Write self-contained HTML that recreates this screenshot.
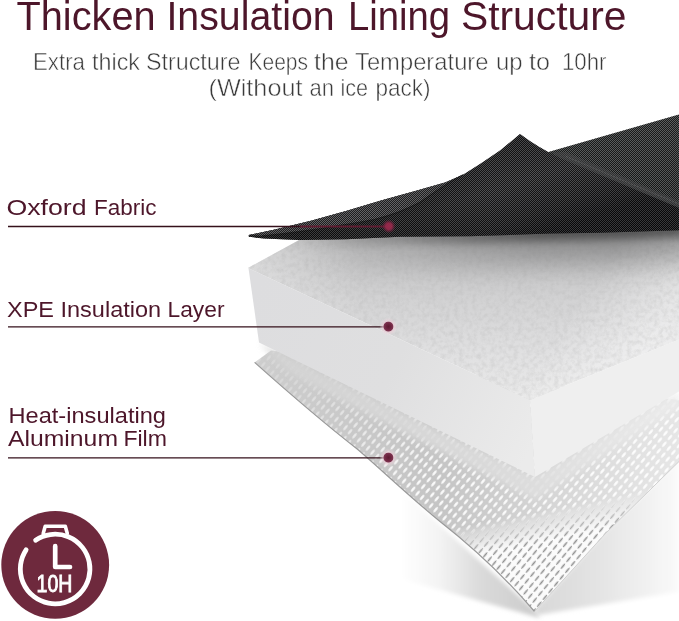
<!DOCTYPE html>
<html><head><meta charset="utf-8"><title>Thicken Insulation Lining Structure</title>
<style>
html,body{margin:0;padding:0;background:#fff;}
body{width:679px;height:621px;overflow:hidden;font-family:"Liberation Sans",sans-serif;}
svg{display:block}
</style></head><body>
<svg width="679" height="621" viewBox="0 0 679 621" font-family="Liberation Sans, sans-serif">
<defs>
  <linearGradient id="gFabA" gradientUnits="userSpaceOnUse" x1="470" y1="150" x2="500" y2="245">
    <stop offset="0" stop-color="#262628"/><stop offset="0.45" stop-color="#343436"/><stop offset="0.8" stop-color="#232325"/><stop offset="1" stop-color="#151517"/>
  </linearGradient>
  <linearGradient id="gFabB" x1="0" y1="0" x2="0" y2="1">
    <stop offset="0" stop-color="#404343"/><stop offset="1" stop-color="#343737"/>
  </linearGradient>
  <linearGradient id="gFoamTop" gradientUnits="userSpaceOnUse" x1="0" y1="240" x2="0" y2="400">
    <stop offset="0" stop-color="#c4c4c5"/><stop offset="0.37" stop-color="#d2d2d3"/><stop offset="0.7" stop-color="#e0e0e1"/><stop offset="1" stop-color="#eaeaea"/>
  </linearGradient>
  <linearGradient id="gFoamL" gradientUnits="userSpaceOnUse" x1="250" y1="300" x2="535" y2="440">
    <stop offset="0" stop-color="#dddddf"/><stop offset="0.5" stop-color="#dfdfe0"/><stop offset="1" stop-color="#ebebeb"/>
  </linearGradient>
  <linearGradient id="gFilm" gradientUnits="userSpaceOnUse" x1="260" y1="0" x2="679" y2="0">
    <stop offset="0" stop-color="#cdcdcd"/><stop offset="0.43" stop-color="#c5c5c5"/><stop offset="0.7" stop-color="#d6d6d6"/><stop offset="0.9" stop-color="#e2e2e2"/><stop offset="1" stop-color="#e6e6e6"/>
  </linearGradient>
  <pattern id="pDots" width="6.1" height="8.8" patternUnits="userSpaceOnUse" patternTransform="matrix(0.739 0.673 0.64 -0.77 0 0)">
    <ellipse cx="3.05" cy="4.4" rx="1.15" ry="3.3" fill="#fff" fill-opacity="0.95"/>
  </pattern>
  <pattern id="pDash" width="6.1" height="8.8" patternUnits="userSpaceOnUse" patternTransform="matrix(0.739 0.673 0.64 -0.77 0 0)">
    <ellipse cx="3.05" cy="4.4" rx="0.8" ry="3.4" fill="#858585" fill-opacity="0.9"/>
  </pattern>
  <linearGradient id="gmL" gradientUnits="userSpaceOnUse" x1="527" y1="514" x2="533" y2="544"><stop offset="0" stop-color="#fff"/><stop offset="1" stop-color="#000"/></linearGradient>
  <linearGradient id="gmR" gradientUnits="userSpaceOnUse" x1="527" y1="514" x2="533" y2="544"><stop offset="0" stop-color="#000"/><stop offset="1" stop-color="#fff"/></linearGradient>
  <linearGradient id="gShR" gradientUnits="userSpaceOnUse" x1="535" y1="0" x2="679" y2="0"><stop offset="0" stop-color="#d8d8d8"/><stop offset="0.45" stop-color="#e4e4e4"/><stop offset="1" stop-color="#fafafa"/></linearGradient>
  <linearGradient id="gShL" gradientUnits="userSpaceOnUse" x1="400" y1="0" x2="535" y2="0"><stop offset="0" stop-color="#ffffff"/><stop offset="0.3" stop-color="#f3f3f3"/><stop offset="0.6" stop-color="#dadada"/><stop offset="1" stop-color="#cccccc"/></linearGradient>
  <filter id="fBlur4" x="-10%" y="-10%" width="120%" height="120%"><feGaussianBlur stdDeviation="2"/></filter>
  <mask id="mLeft" maskUnits="userSpaceOnUse" x="0" y="0" width="679" height="621"><rect width="679" height="621" fill="url(#gmL)"/></mask>
  <mask id="mRight" maskUnits="userSpaceOnUse" x="0" y="0" width="679" height="621"><rect width="679" height="621" fill="url(#gmR)"/></mask>
  <linearGradient id="gmF" gradientUnits="userSpaceOnUse" x1="290" y1="380" x2="410" y2="490"><stop offset="0" stop-color="#444"/><stop offset="1" stop-color="#fff"/></linearGradient>
  <mask id="mFade" maskUnits="userSpaceOnUse" x="0" y="0" width="679" height="621"><rect width="679" height="621" fill="url(#gmF)"/></mask>
  <filter id="fBlurS" filterUnits="userSpaceOnUse" x="200" y="150" width="520" height="250"><feGaussianBlur stdDeviation="14"/></filter>
  <filter id="fBlurS2" filterUnits="userSpaceOnUse" x="200" y="150" width="520" height="250"><feGaussianBlur stdDeviation="4"/></filter>
  <linearGradient id="gFoamLite" gradientUnits="userSpaceOnUse" x1="585" y1="295" x2="650" y2="340"><stop offset="0" stop-color="#fff" stop-opacity="0"/><stop offset="1" stop-color="#fff" stop-opacity="0.45"/></linearGradient>
  <linearGradient id="gFoamLiteL" gradientUnits="userSpaceOnUse" x1="255" y1="0" x2="360" y2="0"><stop offset="0" stop-color="#fff" stop-opacity="0.32"/><stop offset="1" stop-color="#fff" stop-opacity="0"/></linearGradient>
  <linearGradient id="gHaze" gradientUnits="userSpaceOnUse" x1="290" y1="0" x2="679" y2="0"><stop offset="0" stop-color="#d4d4d4"/><stop offset="0.6" stop-color="#dedede"/><stop offset="1" stop-color="#ececec"/></linearGradient>
  <linearGradient id="gFabDarkL" gradientUnits="userSpaceOnUse" x1="300" y1="0" x2="490" y2="0"><stop offset="0" stop-color="#000" stop-opacity="0.45"/><stop offset="0.6" stop-color="#000" stop-opacity="0.3"/><stop offset="1" stop-color="#000" stop-opacity="0"/></linearGradient>
  <linearGradient id="gShX" gradientUnits="userSpaceOnUse" x1="290" y1="0" x2="540" y2="0"><stop offset="0" stop-color="#000" stop-opacity="0.06"/><stop offset="1" stop-color="#000" stop-opacity="1"/></linearGradient>
  <filter id="fBlur3" x="-10%" y="-10%" width="120%" height="120%"><feGaussianBlur stdDeviation="3"/></filter>
  <pattern id="pWeave" width="2" height="2" patternUnits="userSpaceOnUse">
    <rect x="0" y="0" width="1" height="1" fill="#fff" fill-opacity="0.15"/><rect x="1" y="1" width="1" height="1" fill="#fff" fill-opacity="0.15"/>
    <rect x="1" y="0" width="1" height="1" fill="#000" fill-opacity="0.6"/><rect x="0" y="1" width="1" height="1" fill="#000" fill-opacity="0.6"/>
  </pattern>
  <filter id="fNoise" x="0" y="0" width="100%" height="100%">
    <feTurbulence type="fractalNoise" baseFrequency="0.22" numOctaves="3" seed="4" result="n"/>
    <feColorMatrix type="matrix" values="0 0 0 0 0.45  0 0 0 0 0.45  0 0 0 0 0.45  0.6 0 0 0 -0.22"/>
    <feComposite in2="SourceGraphic" operator="in"/>
  </filter>
  <clipPath id="cFoamTop"><path d="M248 268 L300 239.5 L679 215 L679 339.5 L530 400 Z"/></clipPath>
  <radialGradient id="gDotF"><stop offset="0" stop-color="#98294b"/><stop offset="0.45" stop-color="#8f2848"/><stop offset="0.7" stop-color="#7a2240" stop-opacity="0.55"/><stop offset="1" stop-color="#6a1f3a" stop-opacity="0"/></radialGradient>
  <radialGradient id="gDot"><stop offset="0" stop-color="#5e1a31"/><stop offset="0.3" stop-color="#6f2540"/><stop offset="0.5" stop-color="#7d3350"/><stop offset="0.6" stop-color="#e9c9d3" stop-opacity="0.7"/><stop offset="1" stop-color="#f3dfe5" stop-opacity="0"/></radialGradient>
</defs>
<rect width="679" height="621" fill="#fff"/>

<!-- title -->
<g font-size="40.5" fill="#4d162a" opacity="0.999">
  <text x="16.5" y="29.8" textLength="139.1" lengthAdjust="spacingAndGlyphs">Thicken</text>
  <text x="166.4" y="29.8" textLength="168.2" lengthAdjust="spacingAndGlyphs">Insulation</text>
  <text x="347.9" y="29.8" textLength="102.2" lengthAdjust="spacingAndGlyphs">Lining</text>
  <text x="461.0" y="29.8" textLength="165.5" lengthAdjust="spacingAndGlyphs">Structure</text>
</g>
<g font-size="23.6" fill="#3a3a3a" stroke="#fff" stroke-width="0.5" opacity="0.999">
  <text x="33.0" y="70.2" textLength="52.0" lengthAdjust="spacingAndGlyphs">Extra</text>
  <text x="92.0" y="70.2" textLength="48.0" lengthAdjust="spacingAndGlyphs">thick</text>
  <text x="146.0" y="70.2" textLength="94.5" lengthAdjust="spacingAndGlyphs">Structure</text>
  <text x="248.5" y="70.2" textLength="59.5" lengthAdjust="spacingAndGlyphs">Keeps</text>
  <text x="314.0" y="70.2" textLength="34.5" lengthAdjust="spacingAndGlyphs">the</text>
  <text x="355.0" y="70.2" textLength="133.5" lengthAdjust="spacingAndGlyphs">Temperature</text>
  <text x="495.9" y="70.2" textLength="26.6" lengthAdjust="spacingAndGlyphs">up</text>
  <text x="529.0" y="70.2" textLength="21.0" lengthAdjust="spacingAndGlyphs">to</text>
  <text x="562.0" y="70.2" textLength="44.5" lengthAdjust="spacingAndGlyphs">10hr</text>
  <text x="208.5" y="96.1" textLength="94.0" lengthAdjust="spacingAndGlyphs">(Without</text>
  <text x="309.5" y="96.1" textLength="24.5" lengthAdjust="spacingAndGlyphs">an</text>
  <text x="340.4" y="96.1" textLength="27.6" lengthAdjust="spacingAndGlyphs">ice</text>
  <text x="375.5" y="96.1" textLength="55.1" lengthAdjust="spacingAndGlyphs">pack)</text>
</g>

<!-- aluminium film -->
<g id="film">
  <path d="M534.5 610 L605 532 L679 460 L679 591.5 L538 615 Z" fill="url(#gShR)" filter="url(#fBlur4)"/>
  <path d="M395 485 L534.5 610 L540 618 L395 577 Z" fill="url(#gShL)" filter="url(#fBlur4)"/>
  <path d="M254.6 362.4 L271 350.5 L679 400 L679 461.5 L605 534 L534.5 611.5 C505 577 470 545 440 521.5 C410 497 385 473 357.8 449.5 C325 424 290 394 254.6 362.4 Z" fill="url(#gFilm)"/>
  <g mask="url(#mRight)"><path d="M254.6 362.4 L271 350.5 L679 400 L679 461.5 L605 534 L534.5 611.5 C505 577 470 545 440 521.5 C410 497 385 473 357.8 449.5 C325 424 290 394 254.6 362.4 Z" fill="#fbfbfb"/></g>
  <g mask="url(#mLeft)"><g mask="url(#mFade)"><path d="M254.6 362.4 L271 350.5 L679 400 L679 461.5 L605 534 L534.5 611.5 C505 577 470 545 440 521.5 C410 497 385 473 357.8 449.5 C325 424 290 394 254.6 362.4 Z" fill="url(#pDots)"/></g></g>
  <g mask="url(#mRight)"><path d="M254.6 362.4 L271 350.5 L679 400 L679 461.5 L605 534 L534.5 611.5 C505 577 470 545 440 521.5 C410 497 385 473 357.8 449.5 C325 424 290 394 254.6 362.4 Z" fill="url(#pDash)"/></g>
  <path d="M254.6 362.4 C290 394 325 424 357.8 449.5 C385 473 410 497 440 521.5 C470 545 505 577 534.5 611.5" fill="none" stroke="#9a9a9a" stroke-width="1.2"/>
  <path d="M534.5 611.5 L605 534 L679 461.5" fill="none" stroke="#d0d0d0" stroke-width="1"/>
  <!-- hazy band under foam -->
  <path d="M259 342.5 L535 477 L679 391.5 L679 407 L535 500 L290 374 Z" fill="url(#gHaze)" opacity="0.88" filter="url(#fBlur3)"/>
</g>

<!-- foam -->
<g id="foam">
  <path d="M248 268 L300 239.5 L679 215 L679 339.5 L530 400 Z" fill="url(#gFoamTop)"/>
  <path d="M248 268 L300 239.5 L679 215 L679 339.5 L530 400 Z" fill="url(#gFoamLite)"/>
  <path d="M248 268 L300 239.5 L679 215 L679 339.5 L530 400 Z" fill="url(#gFoamLiteL)"/>
  <path d="M248 268 L300 239.5 L679 215 L679 339.5 L530 400 Z" fill="#888" filter="url(#fNoise)"/>
  <path d="M248.5 268.3 L530 400 L535 477 L259 342.5 Z" fill="url(#gFoamL)"/>
  <path d="M530 400 L679 339.5 L679 391.5 L535 477 Z" fill="#efefef"/>
</g>

<!-- fabric -->
<g id="fabric">
  <g clip-path="url(#cFoamTop)">
    <path d="M230 236 L264 238.5 L299 240 L346 239.3 L400 236.8 L470 236.2 L550 233.6 L600 232.7 L700 229.5" fill="none" stroke="url(#gShX)" stroke-width="60" stroke-opacity="0.27" filter="url(#fBlurS)"/>
    <path d="M230 236 L264 238.5 L299 240 L346 239.3 L400 236.8 L470 236.2 L550 233.6 L600 232.7 L700 229.5" fill="none" stroke="url(#gShX)" stroke-width="14" stroke-opacity="0.42" filter="url(#fBlurS2)"/>
  </g>
  <path d="M538 155 L679 114.5 L679 209 L560 159 Z" fill="url(#gFabB)"/>
  <path d="M538 155 L679 114.5 L679 209 L560 159 Z" fill="url(#pWeave)"/>
  <path d="M552 152.5 L560 158 L679 208 L679 201 L566 152 Z" fill="#48484a" opacity="0.5"/>
  <path d="M566 156.5 L679 204" stroke="#8a8a8a" stroke-dasharray="2 1.2" stroke-width="0.9" stroke-opacity="0.4" fill="none"/>
  <!-- underside of lifted flap -->
  <path d="M248.8 235 L275 229.5 L311 220.7 L346 211 L381 200.5 L417 190.6 L445 182.5 L463 174.7 L480 164 L500 150.5 L520 134 Q538 147.5 560 158 L679 208 L679 230.3 L600 232.7 L550 233.6 L470 236.2 L400 236.8 L346 239.3 L299 240 L264 238.5 L248.8 236.8 Z" fill="url(#gFabA)"/>
  <path d="M248.8 235 L275 229.5 L311 220.7 L346 211 L381 200.5 L417 190.6 L445 182.5 L463 174.7 L480 164 L500 150.5 L520 134 Q538 147.5 560 158 L679 208 L679 230.3 L600 232.7 L550 233.6 L470 236.2 L400 236.8 L346 239.3 L299 240 L264 238.5 L248.8 236.8 Z" fill="url(#gFabDarkL)"/>
  <!-- lighter top band -->
  <path d="M248.8 235 L275 229.5 L311 220.7 L346 211 L381 200.5 L417 190.6 L445 182.5 L463 174.7 Q455 179 448.5 183 Q433 193 420 202.4 Q410 207.5 399 211.8 Q388 216 375 219.4 Q358 223 340 225.3 Q320 229 300 231.5 Q280 234.5 262 235.8 Z" fill="#48484a"/>
  <path d="M463 174.7 Q455 179 448.5 183 Q433 193 420 202.4 Q410 207.5 399 211.8 Q388 216 375 219.4 Q358 223 340 225.3 Q320 229 300 231.5 Q280 234.5 262 235.8" fill="none" stroke="#0e0e0f" stroke-width="1.3" stroke-opacity="0.8"/>
  <path d="M248.8 235 L275 229.5 L311 220.7 L346 211 L381 200.5 L417 190.6 L445 182.5 L463 174.7 L480 164 L500 150.5 L520 134 Q538 147.5 560 158 L679 208 L679 230.3 L600 232.7 L550 233.6 L470 236.2 L400 236.8 L346 239.3 L299 240 L264 238.5 L248.8 236.8 Z" fill="url(#pWeave)"/>
</g>

<!-- callouts -->
<g stroke="#35101b" stroke-width="1.35">
  <line x1="8" y1="226.5" x2="388" y2="226.5"/>
  <line x1="8" y1="326.8" x2="388" y2="326.8"/>
  <line x1="8" y1="457.8" x2="388" y2="457.8"/>
</g>
<g>
  <line x1="300" y1="226.5" x2="388" y2="226.5" stroke="#8a2a47" stroke-width="2" stroke-opacity="0.5"/>
  <circle cx="388.8" cy="226.3" r="7" fill="url(#gDotF)"/>
  <circle cx="388.4" cy="326.6" r="9" fill="url(#gDot)"/>
  <circle cx="388.4" cy="457.6" r="9" fill="url(#gDot)"/>
</g>

<g font-size="22.3" fill="#4d162a" opacity="0.999">
  <text x="6.5" y="215.1" textLength="80.1" lengthAdjust="spacingAndGlyphs">Oxford</text>
  <text x="94.0" y="215.1" textLength="62.5" lengthAdjust="spacingAndGlyphs">Fabric</text>
  <text x="7.0" y="316.7" textLength="47.0" lengthAdjust="spacingAndGlyphs">XPE</text>
  <text x="60.5" y="316.7" textLength="100.6" lengthAdjust="spacingAndGlyphs">Insulation</text>
  <text x="167.5" y="316.7" textLength="57.0" lengthAdjust="spacingAndGlyphs">Layer</text>
  <text x="8.5" y="422.5" textLength="157.5" lengthAdjust="spacingAndGlyphs">Heat-insulating</text>
  <text x="8.0" y="445.5" textLength="110.0" lengthAdjust="spacingAndGlyphs">Aluminum</text>
  <text x="123.4" y="445.5" textLength="43.6" lengthAdjust="spacingAndGlyphs">Film</text>
</g>

<!-- icon -->
<g id="icon">
  <circle cx="55.2" cy="564.9" r="53.9" fill="#6e293d"/>
  <g fill="none" stroke="#fff" stroke-linecap="round" stroke-linejoin="round">
    <path d="M35.6 540.2 A34.8 34.8 0 1 1 26.1 549.8" stroke-width="4.8"/>
    <path d="M43.2 533.5 L45.2 526.2 L65.3 526.2 L67.3 533.5" stroke-width="3.6"/>
    <path d="M55.2 546.2 L55.2 567 L70 567" stroke-width="4.7"/>
  </g>
  <text x="36.6" y="591.6" font-size="23.6" fill="#fff" stroke="#fff" stroke-width="0.9" opacity="0.999" textLength="35.8" lengthAdjust="spacingAndGlyphs">10H</text>
</g>
</svg>
</body></html>
